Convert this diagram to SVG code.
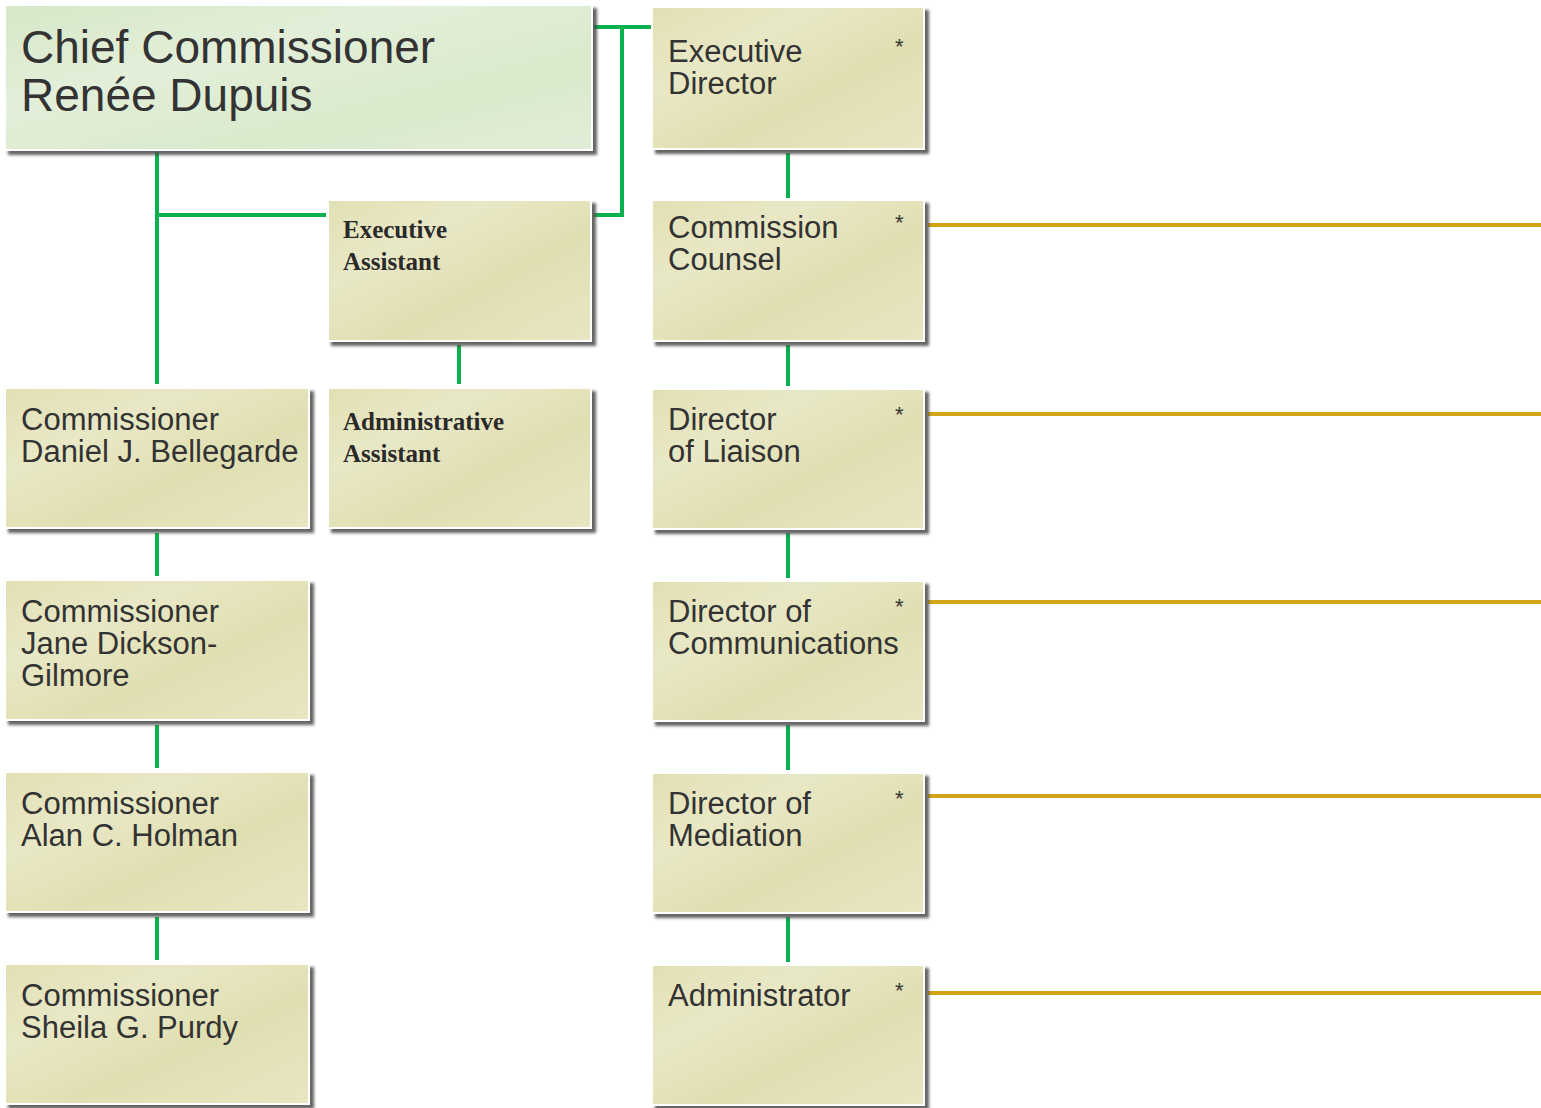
<svg xmlns="http://www.w3.org/2000/svg" width="1541" height="1108" viewBox="0 0 1541 1108">
<defs>
<linearGradient id="gChief" x1="0" y1="0" x2="1" y2="1">
<stop offset="0" stop-color="#d6e8c8"/><stop offset="0.35" stop-color="#e3efd9"/><stop offset="0.7" stop-color="#d9eacc"/><stop offset="1" stop-color="#e2eed8"/>
</linearGradient>
<linearGradient id="gBox" x1="0" y1="0" x2="1" y2="1">
<stop offset="0" stop-color="#e1e0b4"/><stop offset="0.3" stop-color="#e9e8c6"/><stop offset="0.6" stop-color="#e0dfb2"/><stop offset="1" stop-color="#e7e6c2"/>
</linearGradient>
<filter id="sh" x="-5%" y="-5%" width="115%" height="120%">
<feDropShadow dx="4" dy="4" stdDeviation="1.6" flood-color="#4a4a4a" flood-opacity="0.85"/>
</filter>
</defs>
<style>
.box{fill:url(#gBox);stroke:#ffffff;stroke-width:2;filter:url(#sh)}
.chief{fill:url(#gChief);stroke:#ffffff;stroke-width:2;filter:url(#sh)}
.t{font-family:"Liberation Sans",Arial,sans-serif;font-size:31px;fill:#333333}
.tc{font-family:"Liberation Sans",Arial,sans-serif;font-size:46px;fill:#333333}
.ts{font-family:"Liberation Serif","Times New Roman",serif;font-size:25px;font-weight:bold;fill:#2a2a2a}
.star{font-family:"Liberation Sans",Arial,sans-serif;font-size:22px;fill:#333333}
.g{stroke:#0bb04f;stroke-width:4;fill:none}
.o{stroke:#d4a418;stroke-width:4;fill:none}
</style>
<g id="connectors">
<path class="g" d="M594 27 H651 M622 27 V215 H594"/>
<path class="g" d="M157 152 V384 M157 215 H326"/>
<path class="g" d="M459 345 V384"/>
<path class="g" d="M157 533 V576 M157 725 V768 M157 917 V960"/>
<path class="g" d="M788 153 V198 M788 345 V386 M788 533 V578 M788 725 V770 M788 917 V962"/>
<path class="o" d="M928 225 H1541 M928 414 H1541 M928 602 H1541 M928 796 H1541 M928 993 H1541"/>
</g>
<g id="chief"><rect class="chief" x="5" y="5" width="587" height="145"/>
<text class="tc" x="21" y="63">Chief Commissioner</text><text class="tc" x="21" y="111">Renée Dupuis</text></g>
<g id="exec-assistant"><rect class="box" x="328" y="200" width="263" height="141"/>
<text class="ts" x="343" y="238">Executive</text><text class="ts" x="343" y="270">Assistant</text></g>
<g id="admin-assistant"><rect class="box" x="328" y="388" width="263" height="140"/>
<text class="ts" x="343" y="430">Administrative</text><text class="ts" x="343" y="462">Assistant</text></g>
<g id="bellegarde"><rect class="box" x="5" y="388" width="304" height="140"/>
<text class="t" x="21" y="430">Commissioner</text><text class="t" x="21" y="462">Daniel J. Bellegarde</text></g>
<g id="dickson-gilmore"><rect class="box" x="5" y="580" width="304" height="140"/>
<text class="t" x="21" y="622">Commissioner</text><text class="t" x="21" y="654">Jane Dickson-</text><text class="t" x="21" y="686">Gilmore</text></g>
<g id="holman"><rect class="box" x="5" y="772" width="304" height="140"/>
<text class="t" x="21" y="814">Commissioner</text><text class="t" x="21" y="846">Alan C. Holman</text></g>
<g id="purdy"><rect class="box" x="5" y="964" width="304" height="140"/>
<text class="t" x="21" y="1006">Commissioner</text><text class="t" x="21" y="1038">Sheila G. Purdy</text></g>
<g id="exec-director"><rect class="box" x="652" y="7" width="272" height="142"/>
<text class="t" x="668" y="62">Executive</text><text class="t" x="668" y="94">Director</text><text class="star" x="895" y="54">*</text></g>
<g id="counsel"><rect class="box" x="652" y="200" width="272" height="141"/>
<text class="t" x="668" y="238">Commission</text><text class="t" x="668" y="270">Counsel</text><text class="star" x="895" y="230">*</text></g>
<g id="liaison"><rect class="box" x="652" y="389" width="272" height="140"/>
<text class="t" x="668" y="430">Director</text><text class="t" x="668" y="462">of Liaison</text><text class="star" x="895" y="422">*</text></g>
<g id="communications"><rect class="box" x="652" y="581" width="272" height="140"/>
<text class="t" x="668" y="622">Director of</text><text class="t" x="668" y="654">Communications</text><text class="star" x="895" y="614">*</text></g>
<g id="mediation"><rect class="box" x="652" y="773" width="272" height="140"/>
<text class="t" x="668" y="814">Director of</text><text class="t" x="668" y="846">Mediation</text><text class="star" x="895" y="806">*</text></g>
<g id="administrator"><rect class="box" x="652" y="965" width="272" height="140"/>
<text class="t" x="668" y="1006">Administrator</text><text class="star" x="895" y="998">*</text></g>
</svg>
